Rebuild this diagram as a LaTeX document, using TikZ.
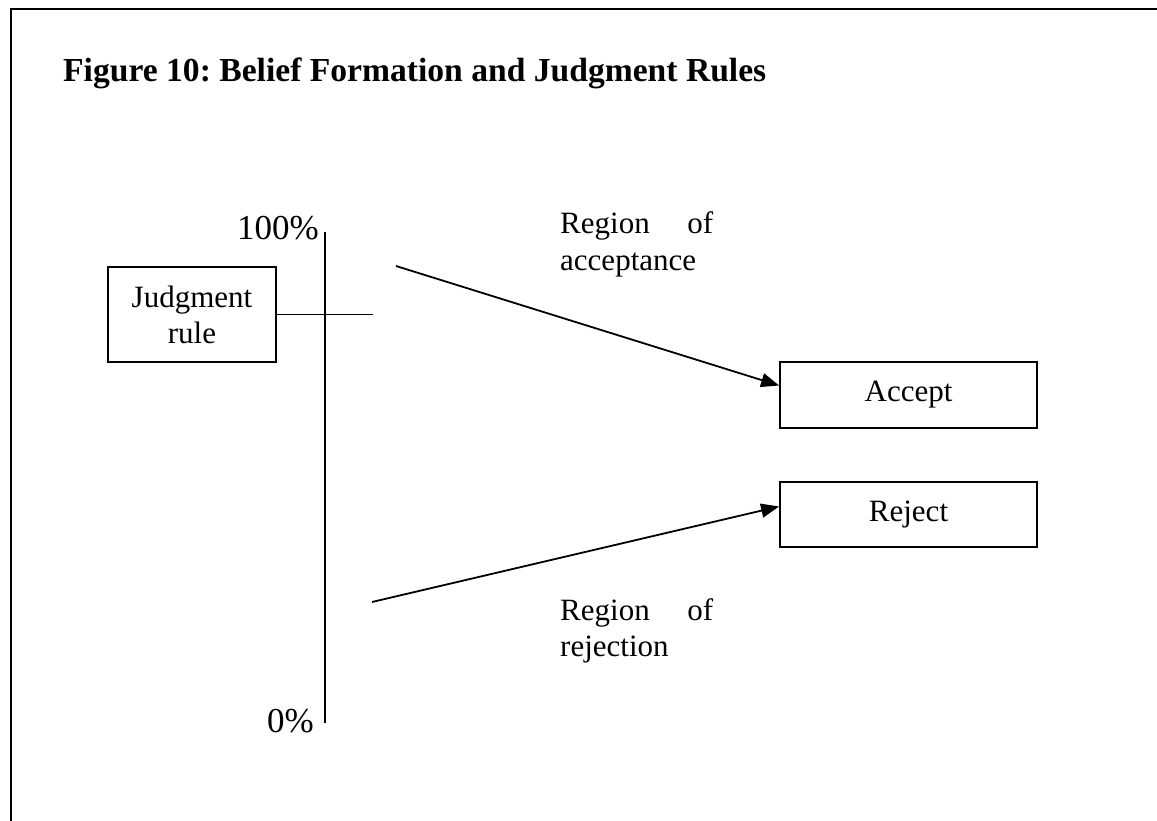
\documentclass[tikz,border=0pt]{standalone}
\usepackage{fontspec}
\setmainfont{Liberation Serif}
\usetikzlibrary{arrows.meta,calc}
\frenchspacing
\tikzset{
  ln/.style={line width=1.8pt},
  bx/.style={draw,line width=1.8pt,inner sep=0pt,font=\fontsize{31}{36}\selectfont},
  lbl/.style={inner sep=0pt,font=\fontsize{31}{36}\selectfont},
  pct/.style={inner sep=0pt,font=\fontsize{35}{40}\selectfont},
  arr/.style={line width=1.8pt,-{Triangle[length=18pt,width=14pt]}}
}
\begin{document}
\begin{tikzpicture}[x=1pt,y=-1pt]
\useasboundingbox (0,0) rectangle (1157,821);
% border
\coordinate (bl) at (11,821);
\coordinate (tl) at (11,9);
\coordinate (tr) at (1157,9);
\draw[line width=2.5pt] (bl) -- (tl) -- (tr);
% title
\node[inner sep=0pt,anchor=base west,font=\fontsize{33.6}{38}\selectfont\bfseries] (title) at (63,82) {Figure 10: Belief Formation and Judgment Rules};
% axis
\coordinate (top) at (325,232);
\coordinate (bot) at (325,723);
\draw[ln] (top) -- (bot);
\node[pct,anchor=base east] (p100) at (319,240) {100\%};
\node[pct,anchor=base east] (p0) at (314,732) {0\%};
% judgment rule
\node[bx,minimum width=168pt,minimum height=95pt,align=center] (jr) at (192,314.5) {Judgment\\rule};
\coordinate (jrend) at (373,314.5);
\draw[ln] (jr.east) -- (jrend);
% boxes
\node[bx,minimum width=257pt,minimum height=66pt] (acc) at (908.5,395) {Accept};
\node[bx,minimum width=257pt,minimum height=65pt] (rej) at (908.5,514.5) {Reject};
% arrows
\coordinate (a1) at (396,266);
\coordinate (r1) at (372,602);
\draw[arr] (a1) -- ($(acc.north west)!0.36!(acc.south west)$);
\draw[arr] (r1) -- ($(rej.north west)!0.38!(rej.south west)$);
% region labels
\node[lbl,anchor=base west,align=left] (ra) at (560,270) {\hbox to 153pt{Region\hfill of}\\acceptance};
\node[lbl,anchor=base west,align=left] (rr) at (560,656) {\hbox to 153pt{Region\hfill of}\\rejection};
\end{tikzpicture}
\end{document}
